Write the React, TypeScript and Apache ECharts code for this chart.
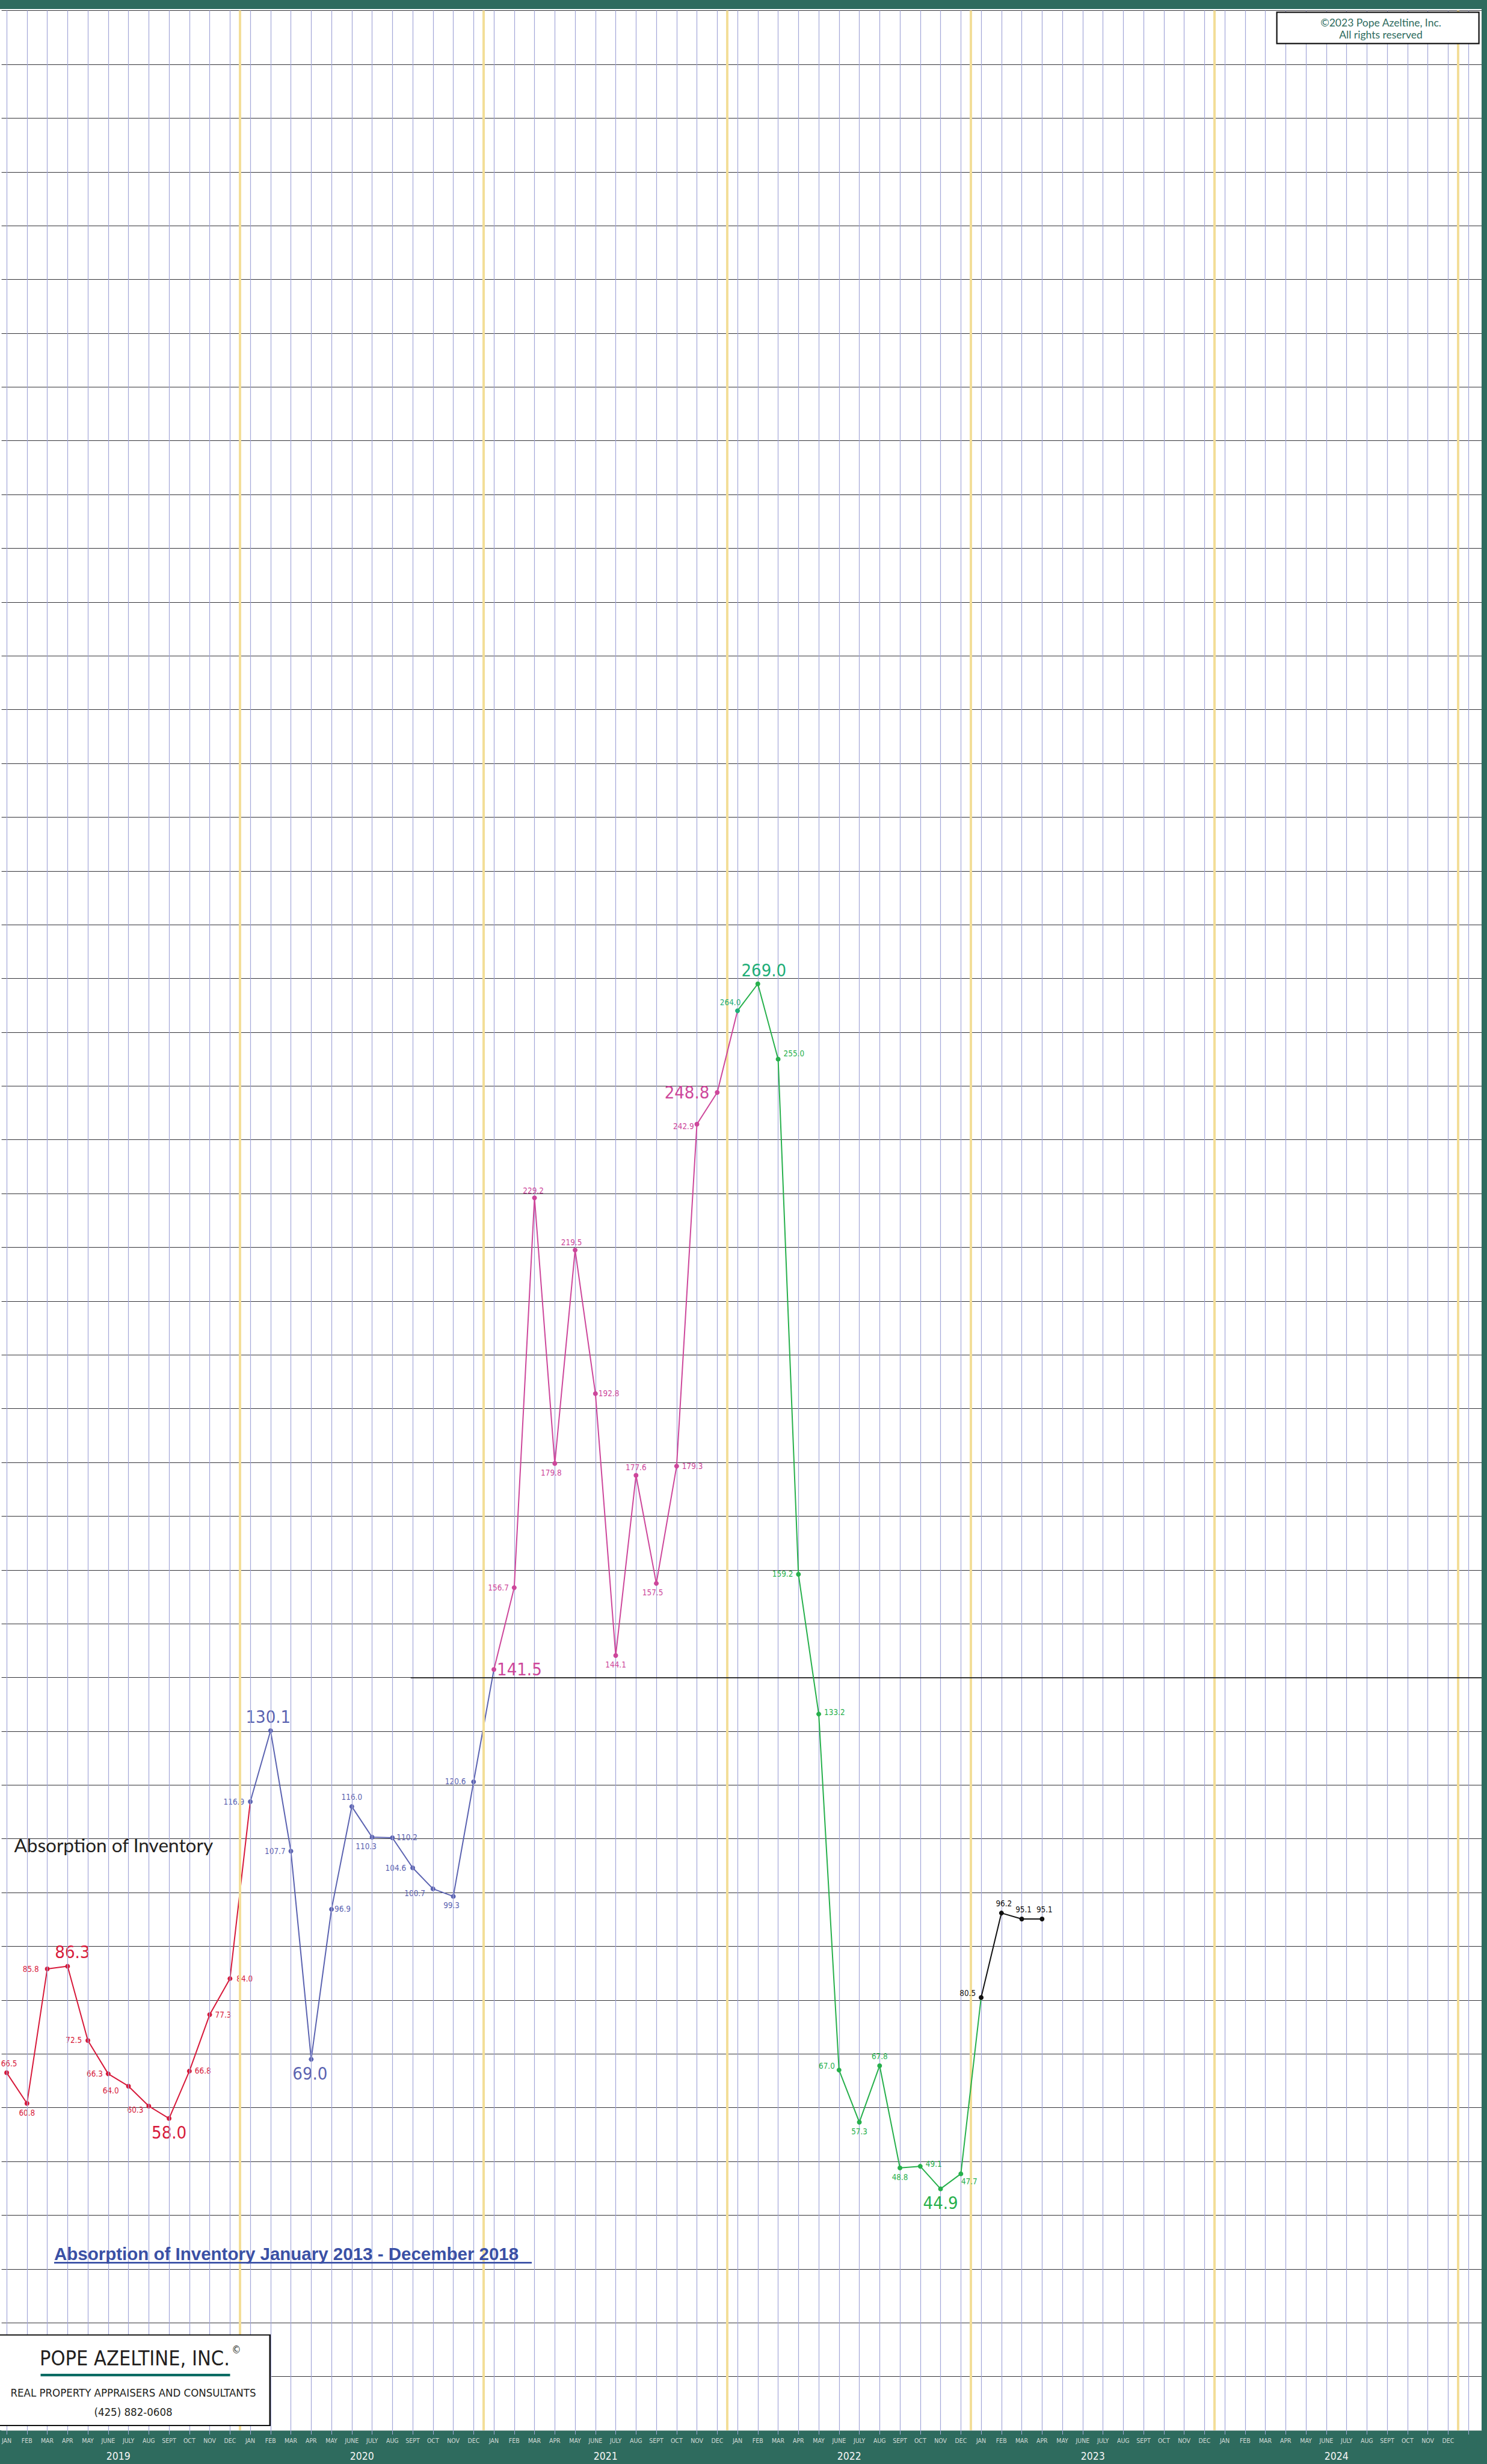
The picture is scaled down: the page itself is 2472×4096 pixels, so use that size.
import React, { useEffect, useRef } from 'react';
import * as echarts from 'echarts';

// ---------------- data ----------------
const monthNames = ['JAN', 'FEB', 'MAR', 'APR', 'MAY', 'JUNE', 'JULY', 'AUG', 'SEPT', 'OCT', 'NOV', 'DEC'];
const yearNames = ['2019', '2020', '2021', '2022', '2023', '2024'];

const values2019 = [66.5, 60.8, 85.8, 86.3, 72.5, 66.3, 64.0, 60.3, 58.0, 66.8, 77.3, 84.0];
const values2020 = [116.9, 130.1, 107.7, 69.0, 96.9, 116.0, 110.3, 110.2, 104.6, 100.7, 99.3, 120.6];
const values2021 = [141.5, 156.7, 229.2, 179.8, 219.5, 192.8, 144.1, 177.6, 157.5, 179.3, 242.9, 248.8];
const values2022 = [264.0, 269.0, 255.0, 159.2, 133.2, 67.0, 57.3, 67.8, 48.8, 49.1, 44.9, 47.7];
const values2023 = [80.5, 96.2, 95.1, 95.1];

const referenceLineValue = 140;
const referenceLineStartMonth = 19.9;

// ---------------- layout / style ----------------
const W = 2472;
const H = 4096;
const GREEN = '#2e6b5e';
const NARROW = "'Liberation Sans Narrow', 'Arial Narrow', 'DejaVu Sans Condensed', Roboto, sans-serif";
const LATO = "Lato, 'Open Sans', sans-serif";
const X_MIN = -0.25;
const X_MAX = 72.65;
const SMALL = 13.4;
const BIG = 29;

type Place = [string, number, number];
const place2019: Place[] = [
  ['top', 4, 0], ['bottom', 0, 0], ['left', -5, 0], ['top', 8, 0], ['left', -1, 0], ['left', 0, 0],
  ['left', -7, 8], ['left', 0, 7], ['bottom', 0, 0], ['right', 0, 0], ['right', 0, 0], ['right', 2, 0],
];
const place2020: Place[] = [
  ['left', -1, 0], ['top', -4, 0], ['left', 0, 0], ['bottom', -2, 0], ['right', -4, 0], ['top', 0, 0],
  ['bottom', -10, 0], ['right', -2, 0], ['left', -2, 0], ['left', -4, 8], ['bottom', -3, 0], ['left', -4, 0],
];
const place2021: Place[] = [
  ['right', -4, 0], ['left', 0, 0], ['top', -2, 4], ['bottom', -6, 0], ['top', -6, 3], ['right', -4, 0],
  ['bottom', 0, 0], ['top', 0, 3], ['bottom', -6, 0], ['right', 0, 0], ['left', 4, 4], ['left', -4, 0],
];
const place2022: Place[] = [
  ['top', -12, 2], ['top', 10, 1], ['right', 0, -9], ['left', 0, 0], ['right', 0, -3], ['left', 2, -7],
  ['bottom', 0, 0], ['top', 0, 0], ['bottom', 0, 0], ['right', 0, -4], ['bottom', 0, 0], ['bottom', 14, -3],
];
const place2023: Place[] = [['left', 0, -7], ['top', 4, 0], ['top', 3, 0], ['top', 4, 0]];

const yearSeries = [
  { name: '2019', values: values2019, color: '#d7193a', place: place2019 },
  { name: '2020', values: values2020, color: '#5b63b1', place: place2020 },
  { name: '2021', values: values2021, color: '#cd479b', place: place2021 },
  { name: '2022', values: values2022, color: '#27b04c', place: place2022 },
  { name: '2023', values: values2023, color: '#111111', place: place2023 },
];
const TEAL = '#1fae78';

function buildSeries(): any[] {
  return yearSeries.map((ys, si) => {
    const start = si * 12;
    const full = ys.values.length === 12;
    const maxV = Math.max(...ys.values);
    const minV = Math.min(...ys.values);
    const data: any[] = ys.values.map((v, k) => {
      const [pos, dx, dy] = ys.place[k];
      const big = full && (v === maxV || v === minV);
      const teal = ys.name === '2022' && k < 2;
      const item: any = {
        value: [start + k, v],
        label: {
          show: true,
          position: pos,
          offset: [dx, dy],
          fontSize: big ? BIG : SMALL,
          color: teal ? TEAL : ys.color,
        },
      };
      if (ys.name === '2022' && k === 0) item.itemStyle = { color: TEAL };
      return item;
    });
    const next = yearSeries[si + 1];
    if (next) {
      data.push({ value: [start + 12, next.values[0]], symbol: 'none', label: { show: false } });
    }
    return {
      type: 'line',
      name: ys.name,
      data,
      z: 3 + si,
      symbol: 'circle',
      symbolSize: 8,
      showAllSymbol: true,
      lineStyle: { color: ys.color, width: 2 },
      itemStyle: { color: ys.color },
      label: {
        show: true,
        fontFamily: NARROW,
        distance: 5,
        formatter: (p: any) => Number(p.value[1]).toFixed(1),
      },
      emphasis: { disabled: true },
      animation: false,
    };
  });
}

const monthTickIdx = Array.from({ length: 73 }, (_, i) => i);
const monthLabelIdx = Array.from({ length: 72 }, (_, i) => i);
const yearCenters = yearNames.map((_, i) => i * 12 + 5.5);
const yearBoundaries = yearNames.map((_, i) => i * 12 + 11.5);

function buildOption(): any {
  const gridSeries = [
    {
      type: 'line',
      data: [],
      silent: true,
      z: 1,
      markLine: {
        silent: true,
        symbol: ['none', 'none'],
        animation: false,
        label: { show: false },
        lineStyle: { color: '#a2a6d8', width: 1.2, type: 'solid' },
        data: monthTickIdx.map((i) => ({ xAxis: i })),
      },
    },
    {
      type: 'line',
      data: [],
      silent: true,
      z: 2,
      markLine: {
        silent: true,
        symbol: ['none', 'none'],
        animation: false,
        label: { show: false },
        lineStyle: { color: '#f3de98', width: 4, type: 'solid' },
        data: yearBoundaries.map((i) => ({ xAxis: i })),
      },
    },
    {
      type: 'line',
      data: [],
      silent: true,
      z: 2,
      markLine: {
        silent: true,
        symbol: ['none', 'none'],
        animation: false,
        label: { show: false },
        lineStyle: { color: '#333333', width: 1.8, type: 'solid' },
        data: [[{ coord: [referenceLineStartMonth, referenceLineValue] }, { coord: [X_MAX, referenceLineValue] }]],
      },
    },
  ];

  return {
    animation: false,
    backgroundColor: '#ffffff',
    grid: { left: 0, right: 9, top: 17.6, bottom: 56, containLabel: false },
    xAxis: [
      {
        type: 'value',
        min: X_MIN,
        max: X_MAX,
        position: 'bottom',
        splitLine: { show: false },
        axisLine: { show: true, lineStyle: { color: '#8fa8a1', width: 1 } },
        axisTick: { show: true, customValues: monthTickIdx, length: 7, lineStyle: { color: '#a2a6d8', width: 1 } },
        axisLabel: {
          show: true,
          customValues: monthLabelIdx,
          formatter: (v: number) => monthNames[Math.round(v) % 12],
          color: '#d3dbd8',
          fontSize: 10.5,
          fontFamily: NARROW,
          margin: 11,
        },
      },
      {
        type: 'value',
        min: X_MIN,
        max: X_MAX,
        position: 'bottom',
        splitLine: { show: false },
        axisLine: { show: false },
        axisTick: { show: false },
        axisLabel: {
          show: true,
          customValues: yearCenters,
          formatter: (v: number) => yearNames[Math.floor(v / 12)],
          color: '#f4f4f4',
          fontSize: 17.5,
          fontFamily: NARROW,
          margin: 34,
        },
      },
    ],
    yAxis: {
      type: 'value',
      min: 0,
      max: 450,
      interval: 10,
      axisLine: { show: false },
      axisTick: { show: false },
      axisLabel: { show: false },
      splitLine: { show: true, lineStyle: { color: '#333338', width: 1.2 } },
    },
    series: [...gridSeries, ...buildSeries()],
    graphic: [
      { type: 'rect', z: -10, shape: { x: 0, y: 0, width: W, height: 15 }, style: { fill: GREEN } },
      { type: 'rect', z: -10, shape: { x: 0, y: 4040, width: W, height: 56 }, style: { fill: GREEN } },
      { type: 'rect', z: -10, shape: { x: 2463, y: 0, width: 9, height: H }, style: { fill: GREEN } },
      // copyright box
      { type: 'rect', z: 100, shape: { x: 2122.6, y: 20.4, width: 336, height: 52 }, style: { fill: '#fff', stroke: '#111', lineWidth: 2.2 } },
      { type: 'text', z: 101, x: 2295.5, y: 37.3, style: { text: '©2023 Pope Azeltine, Inc.', fill: GREEN, fontSize: 17.5, fontFamily: LATO, align: 'center', verticalAlign: 'middle' } },
      { type: 'text', z: 101, x: 2295.5, y: 57.6, style: { text: 'All rights reserved', fill: GREEN, fontSize: 17.5, fontFamily: LATO, align: 'center', verticalAlign: 'middle' } },
      // chart caption
      { type: 'text', z: 100, x: 23.5, y: 3066.8, style: { text: 'Absorption of Inventory', fill: '#231f20', fontSize: 31.5, fontFamily: LATO, align: 'left', verticalAlign: 'middle' } },
      // blue title with underline
      { type: 'text', z: 100, x: 90, y: 3746, style: { text: 'Absorption of Inventory January 2013 - December 2018', fill: '#3a50a5', fontSize: 29.5, fontWeight: 'bold', fontFamily: "'Liberation Sans', Arial, sans-serif", align: 'left', verticalAlign: 'middle' } },
      { type: 'rect', z: 100, shape: { x: 90, y: 3760, width: 794, height: 2.8 }, style: { fill: '#3a50a5' } },
      // logo box
      { type: 'rect', z: 100, shape: { x: -3, y: 3881.6, width: 452, height: 150.4 }, style: { fill: '#fff', stroke: '#111', lineWidth: 2 } },
      { type: 'rect', z: 101, shape: { x: 447.5, y: 3882, width: 2.4, height: 151 }, style: { fill: '#111' } },
      { type: 'text', z: 102, x: 224, y: 3920, style: { text: 'POPE AZELTINE, INC.', fill: '#231f20', fontSize: 34, fontFamily: NARROW, align: 'center', verticalAlign: 'middle' } },
      { type: 'text', z: 102, x: 393, y: 3906, style: { text: '©', fill: '#231f20', fontSize: 17, fontFamily: NARROW, align: 'center', verticalAlign: 'middle' } },
      { type: 'rect', z: 102, shape: { x: 67.5, y: 3946, width: 315, height: 4.2 }, style: { fill: '#0a6b63' } },
      { type: 'text', z: 102, x: 221.5, y: 3977, style: { text: 'REAL PROPERTY APPRAISERS AND CONSULTANTS', fill: '#231f20', fontSize: 18.5, fontFamily: NARROW, align: 'center', verticalAlign: 'middle' } },
      { type: 'text', z: 102, x: 221.5, y: 4009, style: { text: '(425) 882-0608', fill: '#231f20', fontSize: 18.5, fontFamily: NARROW, align: 'center', verticalAlign: 'middle' } },
    ],
  };
}

export default function App() {
  const ref = useRef<HTMLDivElement>(null);
  useEffect(() => {
    document.body.style.margin = '0';
    const chart = echarts.init(ref.current as HTMLDivElement, null, { renderer: 'svg', width: W, height: H });
    chart.setOption(buildOption());
    return () => chart.dispose();
  }, []);
  return <div ref={ref} style={{ width: W, height: H, position: 'absolute', left: 0, top: 0, background: '#fff' }} />;
}
